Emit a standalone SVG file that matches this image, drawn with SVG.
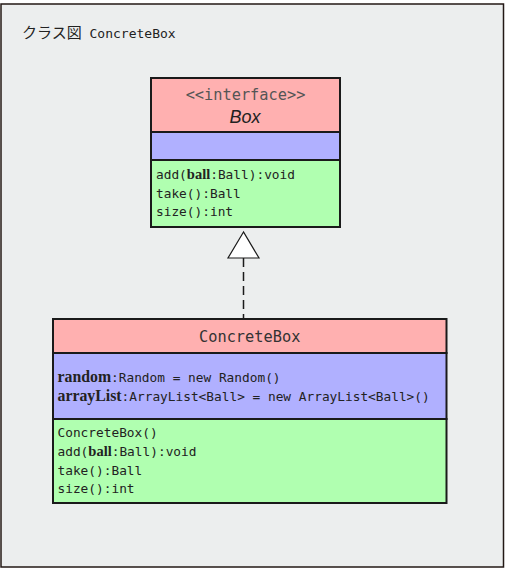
<svg xmlns="http://www.w3.org/2000/svg" width="508" height="572" viewBox="0 0 508 572">
<style>
.mono{font-family:"DejaVu Sans Mono","Noto Sans CJK JP",monospace;font-size:12.8px;fill:#222}
.b{font-family:"Liberation Serif",serif;font-weight:bold;font-size:14.5px;fill:#222}
.bb{font-size:15.8px}
.hdr{font-family:"DejaVu Sans Mono",monospace;font-size:15.3px;fill:#333}
.box{stroke:#1a1a1a;stroke-width:2}
.red{fill:#ffb0b0}.blue{fill:#b0b0ff}.green{fill:#b0ffb0}
</style>
<rect x="1" y="4" width="502.5" height="563" fill="#eceeee" stroke="#231815" stroke-width="1.5"/>
<text x="22" y="38" class="mono" style="font-size:13px"><tspan style="font-family:'Noto Sans CJK JP',sans-serif;font-size:15px">クラス図</tspan> ConcreteBox</text>
<g id="Box">
<rect class="box red" x="151" y="78" width="189" height="54"/>
<rect class="box blue" x="151" y="132" width="189" height="28"/>
<rect class="box green" x="151" y="160" width="189" height="67"/>
<text x="245.5" y="100" class="hdr" text-anchor="middle" style="fill:#555">&lt;&lt;interface&gt;&gt;</text>
<text x="245" y="123" text-anchor="middle" font-family="Liberation Sans,sans-serif" font-style="italic" font-size="18" fill="#222">Box</text>
<text x="156" y="178.5" class="mono">add(<tspan class="b">ball</tspan>:Ball):void</text>
<text x="156" y="197.5" class="mono">take():Ball</text>
<text x="156" y="216" class="mono">size():int</text>
</g>
<g id="ConcreteBox">
<rect class="box red" x="53" y="319" width="393.5" height="34"/>
<rect class="box blue" x="53" y="353" width="393.5" height="66"/>
<rect class="box green" x="53" y="419" width="393.5" height="84"/>
<text x="249.7" y="342" class="hdr" text-anchor="middle">ConcreteBox</text>
<text x="57.5" y="382" class="mono"><tspan class="b bb">random</tspan>:Random = new Random()</text>
<text x="57.5" y="401" class="mono"><tspan class="b bb">arrayList</tspan>:ArrayList&lt;Ball&gt; = new ArrayList&lt;Ball&gt;()</text>
<text x="57.5" y="437" class="mono">ConcreteBox()</text>
<text x="57.5" y="456" class="mono">add(<tspan class="b">ball</tspan>:Ball):void</text>
<text x="57.5" y="474.5" class="mono">take():Ball</text>
<text x="57.5" y="493" class="mono">size():int</text>
</g>
<g id="connectors">
<line x1="243.5" y1="258" x2="243.5" y2="319" stroke="#1a1a1a" stroke-width="1.5" stroke-dasharray="9,5"/>
<polygon points="243.5,232 228,258 259,258" fill="#fff" stroke="#1a1a1a" stroke-width="1.2"/>
</g>
</svg>
